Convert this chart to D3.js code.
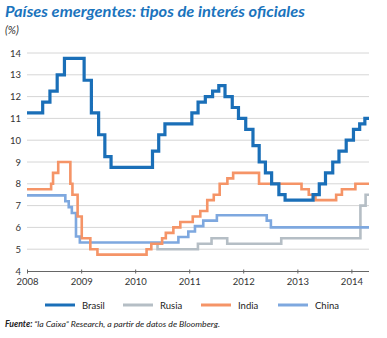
<!DOCTYPE html>
<html><head><meta charset="utf-8">
<script src="https://cdn.jsdelivr.net/npm/d3@7"></script>
<style>body{margin:0;background:#fff}svg{display:block}</style>
</head><body><svg id="c" width="387" height="338"></svg>
<script>
const yTicks = [4,5,6,7,8,9,10,11,12,13,14];
const xTickYears = [2008,2009,2010,2011,2012,2013,2014];
const seriesNames = ["Brasil","Rusia","India","China"];
const seriesColors = ["#1a6fb8","#b5bec5","#f59467","#7ea8df"];
const brasil = [["2008-01-01",11.25],["2008-04-16",11.75],["2008-06-04",12.25],["2008-07-23",13.0],["2008-09-10",13.75],["2009-01-21",12.75],["2009-03-11",11.25],["2009-04-29",10.25],["2009-06-10",9.25],["2009-07-22",8.75],["2010-04-28",9.5],["2010-06-09",10.25],["2010-07-21",10.75],["2011-01-19",11.25],["2011-03-02",11.75],["2011-04-20",12.0],["2011-06-08",12.25],["2011-07-20",12.5],["2011-08-31",12.0],["2011-10-19",11.5],["2011-11-30",11.0],["2012-01-18",10.5],["2012-03-07",9.75],["2012-04-18",9.0],["2012-05-30",8.5],["2012-07-11",8.0],["2012-08-29",7.5],["2012-10-10",7.25],["2013-04-17",7.5],["2013-05-29",8.0],["2013-07-10",8.5],["2013-08-28",9.0],["2013-10-09",9.5],["2013-11-27",10.0],["2014-01-15",10.5],["2014-02-26",10.75],["2014-04-02",11.0],["2014-04-30",11.0]];
const rusia = [["2010-04-20",5.25],["2010-06-01",5.0],["2011-03-01",5.25],["2011-06-01",5.5],["2011-09-15",5.25],["2012-09-14",5.5],["2014-03-03",7.0],["2014-04-07",7.5],["2014-04-30",7.5]];
const india = [["2008-01-01",7.75],["2008-06-12",8.0],["2008-06-25",8.5],["2008-07-30",9.0],["2008-10-20",8.0],["2008-11-03",7.5],["2008-12-08",6.5],["2009-01-05",5.5],["2009-03-04",5.0],["2009-04-21",4.75],["2010-03-19",5.0],["2010-04-20",5.25],["2010-07-02",5.5],["2010-07-27",5.75],["2010-09-16",6.0],["2010-11-02",6.25],["2011-01-25",6.5],["2011-03-17",6.75],["2011-05-03",7.25],["2011-06-16",7.5],["2011-07-26",8.0],["2011-09-16",8.25],["2011-10-25",8.5],["2012-04-17",8.0],["2013-01-29",7.75],["2013-03-19",7.5],["2013-05-03",7.25],["2013-09-20",7.5],["2013-10-29",7.75],["2014-01-28",8.0],["2014-04-30",8.0]];
const china = [["2008-01-01",7.47],["2008-09-16",7.20],["2008-10-09",6.93],["2008-10-30",6.66],["2008-11-27",5.58],["2008-12-23",5.31],["2010-10-20",5.56],["2010-12-26",5.81],["2011-02-09",6.06],["2011-04-06",6.31],["2011-07-07",6.56],["2012-06-08",6.31],["2012-07-06",6.0],["2014-04-30",6.0]];

const parse = d3.timeParse("%Y-%m-%d");
const svg = d3.select("#c");
const x = d3.scaleTime().domain([parse("2008-01-01"), parse("2014-04-30")]).range([27, 369]);
const y = d3.scaleLinear().domain([4, 14]).range([271, 53]);

// title
svg.append("text").attr("x",5).attr("y",17).attr("fill","#1a74bd")
  .attr("font-family","Lato, 'Open Sans', sans-serif").attr("font-weight","bold").attr("font-style","italic")
  .attr("font-size",16).attr("textLength",300).attr("lengthAdjust","spacingAndGlyphs")
  .text("Países emergentes: tipos de interés oficiales");
svg.append("text").attr("x",5).attr("y",34).attr("fill","#333")
  .attr("font-family","Lato, sans-serif").attr("font-style","italic").attr("font-size",11).text("(%)");

// grid
svg.append("g").selectAll("line").data(yTicks.filter(d=>d>4)).join("line")
  .attr("x1",27).attr("x2",369).attr("y1",d=>y(d)).attr("y2",d=>y(d))
  .attr("stroke","#d6d6d6").attr("stroke-width",1);

// y labels
svg.append("g").selectAll("text").data(yTicks).join("text")
  .attr("x",21).attr("y",d=>y(d)+3.5).attr("text-anchor","end")
  .attr("font-family","Lato, sans-serif").attr("font-size",9.5).attr("fill","#333").text(d=>d);

// x axis
const xAxis = d3.axisBottom(x).tickValues(xTickYears.map(yr=>new Date(yr,0,1)))
  .tickFormat(d3.timeFormat("%Y")).tickSize(-3).tickPadding(7);
const gx = svg.append("g").attr("transform","translate(0,271.5)").call(xAxis);
gx.select(".domain").attr("stroke","#666").attr("stroke-width",1.2).attr("d","M27,0H369");
gx.selectAll(".tick line").attr("stroke","#666").attr("y2",2).attr("y1",-2);
gx.selectAll(".tick text").attr("font-family","Lato, sans-serif").attr("font-size",9.5).attr("fill","#333");

// lines
const line = d3.line().curve(d3.curveStepAfter).x(d=>x(parse(d[0]))).y(d=>y(d[1]));
const dataMap = {Brasil:brasil, Rusia:rusia, India:india, China:china};
const widths = {Brasil:3.2, Rusia:2.6, India:2.6, China:2.6};
["Rusia","China","India","Brasil"].forEach(n=>{
  svg.append("path").datum(dataMap[n]).attr("d",line).attr("fill","none")
    .attr("stroke",seriesColors[seriesNames.indexOf(n)]).attr("stroke-width",widths[n])
    .attr("stroke-linejoin","miter");
});

// legend
const legX = [45,123,201,278];
const lg = svg.append("g").selectAll("g").data(seriesNames).join("g")
  .attr("transform",(d,i)=>`translate(${legX[i]},305)`);
lg.append("line").attr("x1",0).attr("x2",30).attr("stroke",(d,i)=>seriesColors[i]).attr("stroke-width",3);
lg.append("text").attr("x",37).attr("y",3.5).attr("font-family","Lato, sans-serif").attr("font-size",9.5)
  .attr("fill","#222").text(d=>d);

// source
const src = svg.append("text").attr("x",5).attr("y",327).attr("font-family","Lato, sans-serif")
  .attr("font-size",8.5).attr("font-style","italic").attr("fill","#222")
  .attr("textLength",215).attr("lengthAdjust","spacingAndGlyphs");
src.append("tspan").attr("font-weight","bold").text("Fuente: ");
src.append("tspan").text("“la Caixa” Research, a partir de datos de Bloomberg.");
</script></body></html>
